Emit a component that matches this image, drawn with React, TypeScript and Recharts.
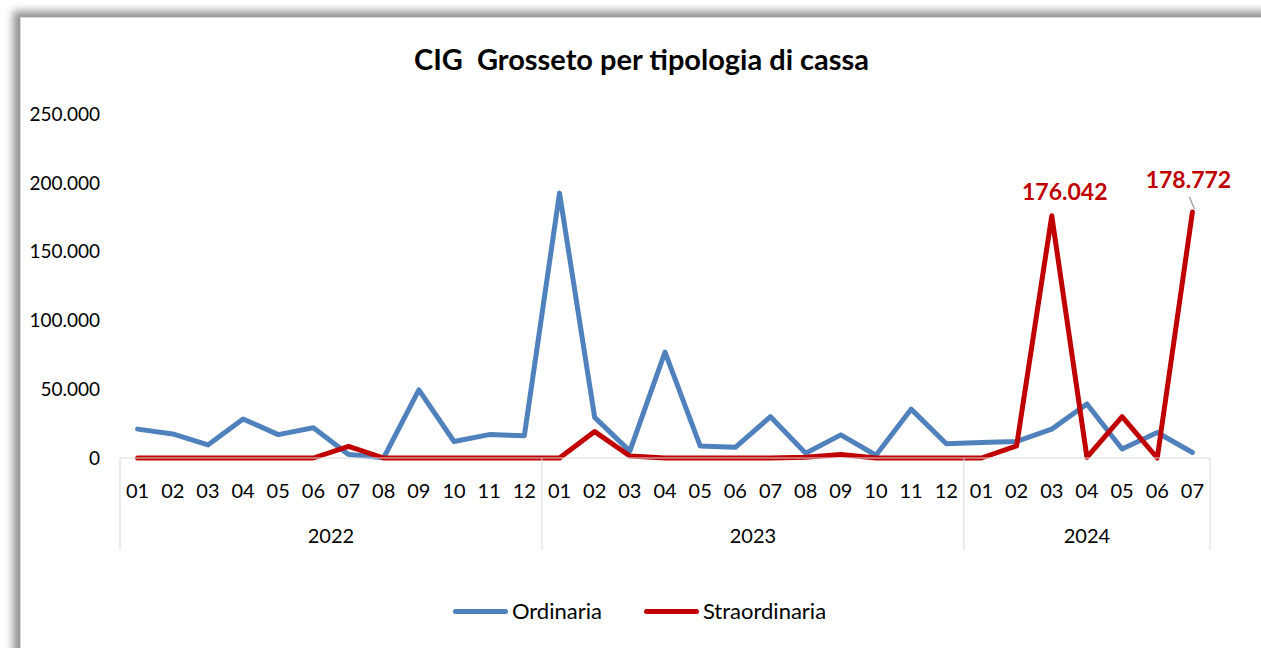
import React from "react";
import { LineChart, Line, XAxis, YAxis, Legend, LabelList } from "recharts";

const FONT = "Lato, 'Open Sans', sans-serif";
const BLUE = "#4F81BD";
const RED = "#C00000";
const AXIS_GRAY = "#D9D9D9";

const months = [
  "01", "02", "03", "04", "05", "06", "07", "08", "09", "10", "11", "12",
  "01", "02", "03", "04", "05", "06", "07", "08", "09", "10", "11", "12",
  "01", "02", "03", "04", "05", "06", "07",
];
const years = ["2022", "2023", "2024"];
const monthsPerYear = [12, 12, 7];

const ordinaria = [
  21000, 17500, 9500, 28400, 17000, 22000, 2500, 200, 49500, 12000, 17000, 16200,
  192500, 29500, 5000, 77000, 8800, 7800, 30000, 3500, 16800, 2000, 35500, 10300,
  11300, 12000, 21000, 39300, 6500, 18500, 4000,
];
const straordinaria = [
  0, 0, 0, 0, 0, 0, 8500, 0, 0, 0, 0, 0,
  0, 19200, 1500, 0, 0, 0, 0, 600, 2500, 0, 0, 0,
  0, 8800, 176042, 500, 30000, 0, 178772,
];
const labelledPoints = [26, 30];
const yTicks = [0, 50000, 100000, 150000, 200000, 250000];

const data = months.map((m, i) => ({
  i,
  month: m,
  ordinaria: ordinaria[i],
  straordinaria: straordinaria[i],
}));

// year boundaries and centres in index units
const boundaries: number[] = [-0.5];
const centres: number[] = [];
monthsPerYear.reduce((start, n) => {
  centres.push(start + (n - 1) / 2);
  boundaries.push(start + n - 0.5);
  return start + n;
}, 0);

const fmt = (v: number) =>
  v === 0 ? "0" : String(Math.round(v)).replace(/\B(?=(\d{3})+(?!\d))/g, ".");

const MONTH_AXIS_H = 52;
const YEAR_AXIS_H = 40;

function YearTick(props: any) {
  const { x, y, payload } = props;
  const v = payload.value;
  const b = boundaries.findIndex((d) => Math.abs(d - v) < 1e-6);
  if (b >= 0) {
    return (
      <line x1={x} x2={x} y1={y - MONTH_AXIS_H} y2={y + YEAR_AXIS_H} stroke={AXIS_GRAY} strokeWidth={1} />
    );
  }
  const k = centres.findIndex((d) => Math.abs(d - v) < 1e-6);
  return (
    <text x={x} y={y + 33} textAnchor="middle" fontFamily={FONT} fontSize={20} fill="#000">
      {years[k]}
    </text>
  );
}

function PeakLabel(props: any) {
  const { x, y, index, value } = props;
  if (!labelledPoints.includes(index)) return null;
  if (index === labelledPoints[labelledPoints.length - 1]) {
    return (
      <g>
        <line x1={x - 3} y1={y - 15} x2={x + 2} y2={y - 3} stroke="#A6A6A6" strokeWidth={1.5} />
        <text x={x - 4} y={y - 24} textAnchor="middle" fontFamily={FONT} fontWeight={700} fontSize={23} fill={RED}>
          {fmt(value)}
        </text>
      </g>
    );
  }
  return (
    <text x={x + 13} y={y - 16} textAnchor="middle" fontFamily={FONT} fontWeight={700} fontSize={23} fill={RED}>
      {fmt(value)}
    </text>
  );
}

function LegendContent() {
  const swatch = (c: string) => (
    <span style={{ display: "inline-block", width: 55, height: 5, borderRadius: 3, background: c, marginRight: 4 }} />
  );
  return (
    <div
      style={{
        display: "flex",
        justifyContent: "center",
        alignItems: "center",
        fontFamily: FONT,
        fontSize: 22,
        color: "#000",
        paddingLeft: 18,
        lineHeight: "28px",
      }}
    >
      {swatch(BLUE)}
      <span style={{ marginRight: 42 }}>Ordinaria</span>
      {swatch(RED)}
      <span>Straordinaria</span>
    </div>
  );
}

export default function App() {
  return (
    <div
      style={{
        position: "fixed",
        left: 0,
        top: 0,
        width: 1261,
        height: 648,
        overflow: "hidden",
        background: "#fff",
      }}
    >
      <div
        style={{
          position: "absolute",
          left: 20,
          top: 17,
          width: 1320,
          height: 700,
          background: "#fff",
          border: "1px solid #D9D9D9",
          boxShadow: "-7px -6px 8px rgba(0,0,0,0.42)",
        }}
      />
      <div
        style={{
          position: "absolute",
          left: 11,
          top: 40,
          width: 1261,
          textAlign: "center",
          fontFamily: FONT,
          fontWeight: 700,
          fontSize: 29,
          lineHeight: "38px",
          color: "#000",
        }}
      >
        CIG&nbsp;&nbsp;Grosseto per tipologia di cassa
      </div>
      <div style={{ position: "absolute", left: 0, top: 0 }}>
        <LineChart
          width={1261}
          height={648}
          data={data}
          margin={{ top: 114, right: 51, left: 0, bottom: 98 }}
        >
          <XAxis
            dataKey="i"
            type="number"
            domain={[-0.5, months.length - 0.5]}
            ticks={data.map((d) => d.i)}
            interval={0}
            tickFormatter={(v: number) => months[v]}
            height={MONTH_AXIS_H}
            tickSize={0}
            tickMargin={26}
            tickLine={false}
            axisLine={{ stroke: AXIS_GRAY, strokeWidth: 1 }}
            tick={{ fontFamily: FONT, fontSize: 20, fill: "#000" }}
          />
          <XAxis
            xAxisId="year"
            dataKey="i"
            type="number"
            domain={[-0.5, months.length - 0.5]}
            ticks={[...boundaries, ...centres].sort((a, b) => a - b)}
            interval={0}
            height={YEAR_AXIS_H}
            tickSize={0}
            tickMargin={0}
            tickLine={false}
            axisLine={false}
            tick={<YearTick />}
          />
          <YAxis
            domain={[0, 250000]}
            ticks={yTicks}
            interval={0}
            width={120}
            tickFormatter={fmt}
            tickSize={0}
            tickMargin={20}
            tickLine={false}
            axisLine={false}
            tick={{ fontFamily: FONT, fontSize: 19, fill: "#000" }}
          />
          <Legend
            layout="horizontal"
            verticalAlign="middle"
            align="center"
            wrapperStyle={{ top: 597, left: 0, width: 1261 }}
            content={<LegendContent />}
          />
          <Line
            type="linear"
            dataKey="ordinaria"
            name="Ordinaria"
            stroke={BLUE}
            strokeWidth={5}
            strokeLinejoin="round"
            strokeLinecap="round"
            dot={false}
            activeDot={false}
            isAnimationActive={false}
          />
          <Line
            type="linear"
            dataKey="straordinaria"
            name="Straordinaria"
            stroke={RED}
            strokeWidth={5}
            strokeLinejoin="round"
            strokeLinecap="round"
            dot={false}
            activeDot={false}
            isAnimationActive={false}
          >
            <LabelList dataKey="straordinaria" content={<PeakLabel />} />
          </Line>
        </LineChart>
      </div>
    </div>
  );
}
